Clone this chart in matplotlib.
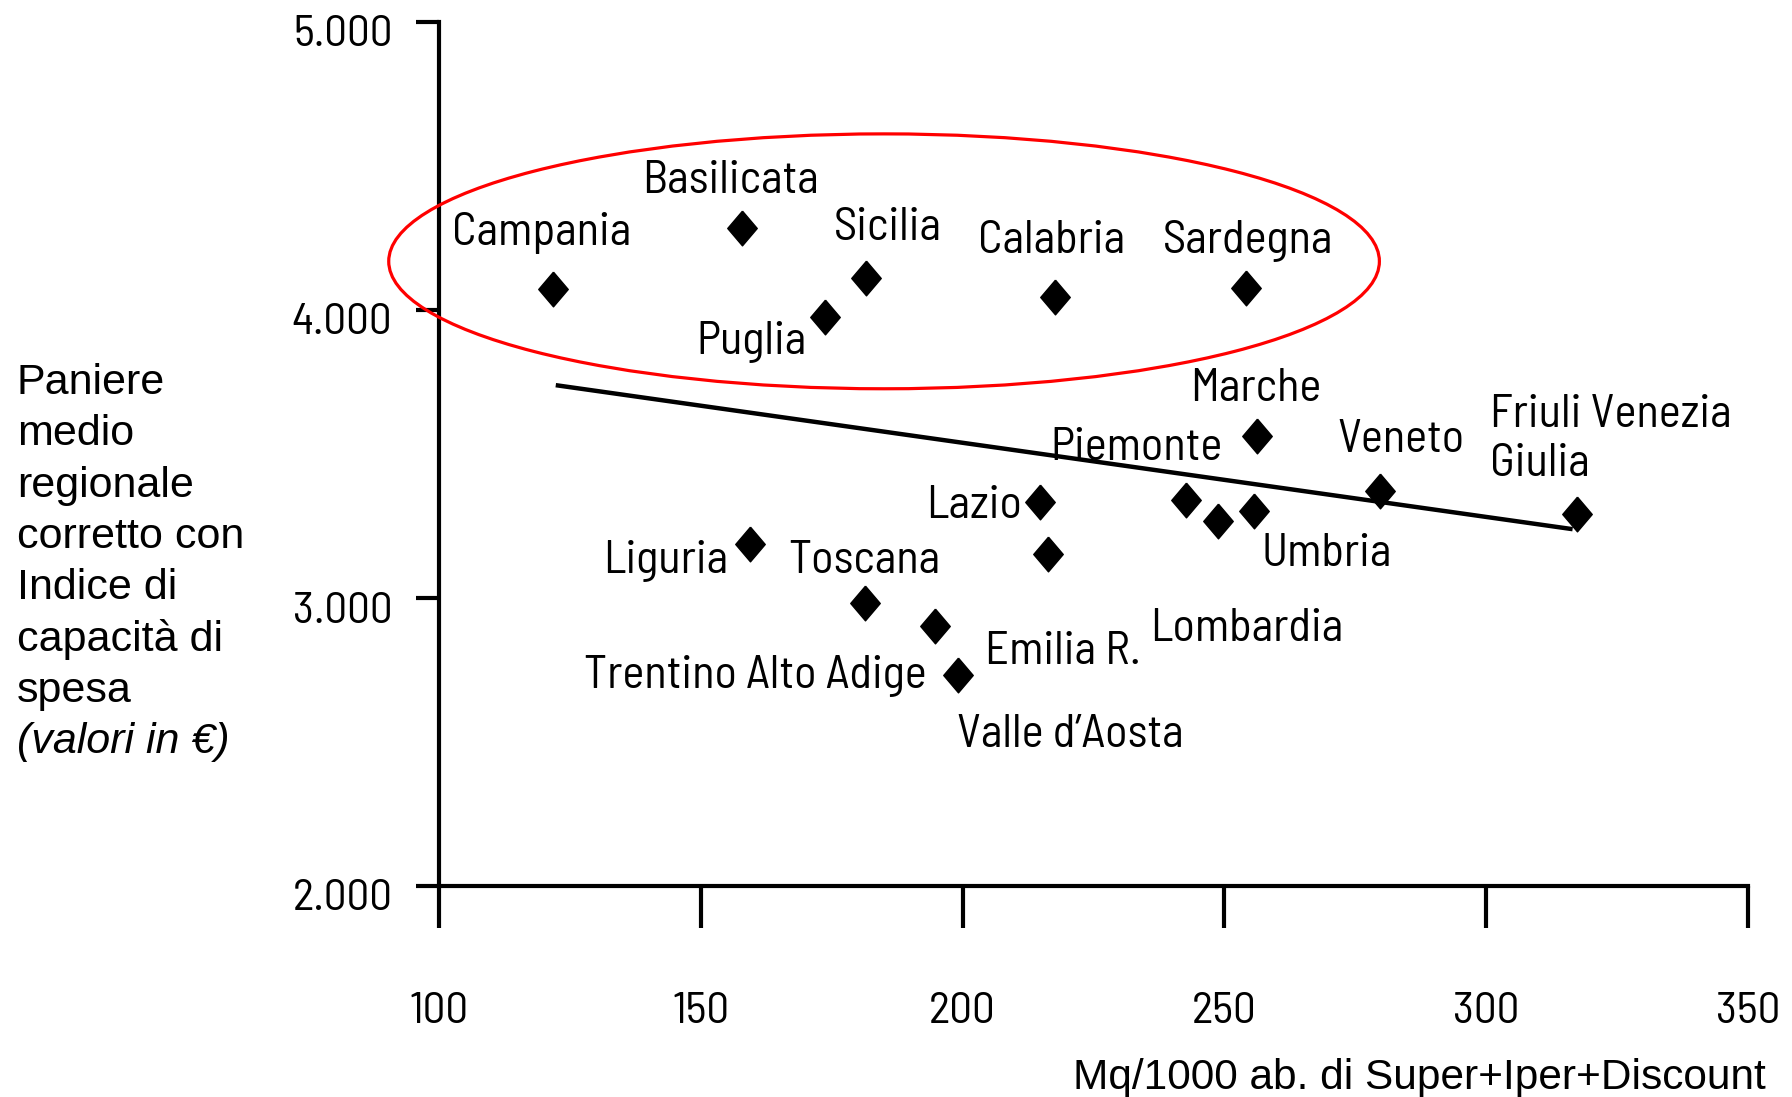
import matplotlib
matplotlib.use('Agg')
import matplotlib.pyplot as plt
from matplotlib.patches import Ellipse
import matplotlib.transforms as mtransforms

# ---------------- data ----------------
regions = ['Campania', 'Basilicata', 'Sicilia', 'Puglia', 'Calabria', 'Sardegna',
           'Marche', 'Veneto', 'Friuli Venezia Giulia', 'Lazio', 'Emilia R.',
           'Lombardia', 'Piemonte', 'Umbria', 'Liguria', 'Toscana',
           'Trentino Alto Adige', "Valle d\u2019Aosta"]
mq_per_1000 = [121.8, 157.8, 181.6, 173.8, 217.6, 254.1,
               256.3, 279.8, 317.4, 214.8, 216.3,
               242.7, 248.8, 255.6, 159.4, 181.4,
               194.7, 199.1]
paniere = [4072, 4283, 4112, 3977, 4044, 4076,
           3564, 3370, 3290, 3334, 3152,
           3342, 3267, 3302, 3187, 2981,
           2902, 2731]
label_text = ['Campania', 'Basilicata', 'Sicilia', 'Puglia', 'Calabria', 'Sardegna',
              'Marche', 'Veneto', 'Friuli Venezia\nGiulia', 'Lazio', 'Emilia R.',
              'Lombardia', 'Piemonte', 'Umbria', 'Liguria', 'Toscana',
              'Trentino Alto Adige', "Valle d\u2019Aosta"]
label_x = [119.6, 155.7, 185.8, 159.6, 217.0, 254.5,
           256.0, 283.8, 300.8, 202.1, 219.2,
           254.3, 233.3, 269.6, 143.2, 181.2,
           160.5, 220.5]
label_y = [4269, 4447, 4284, 3888, 4241, 4241,
           3725, 3550, 3550, 3320, 2812,
           2892, 3522, 3153, 3130, 3130,
           2729, 2523]
label_ha = ['center'] * 8 + ['left'] + ['center'] * 9

trend_x = [122.3, 316.5]
trend_y = [3739, 3239]

x_ticks = [100, 150, 200, 250, 300, 350]
x_tick_labels = ['100', '150', '200', '250', '300', '350']
y_ticks = [2000, 3000, 4000, 5000]
y_tick_labels = ['2.000', '3.000', '4.000', '5.000']

ylabel_lines = ['Paniere', 'medio', 'regionale', 'corretto con', 'Indice di',
                'capacit\u00e0 di', 'spesa', '(valori in \u20ac)']
xlabel = 'Mq/1000 ab. di Super+Iper+Discount'

# ---------------- style ----------------
COND = ['Barlow Semi Condensed', 'Roboto Condensed', 'DejaVu Sans']
ARIAL = ['Liberation Sans', 'Arimo', 'DejaVu Sans']
W, H = 1792, 1097

fig = plt.figure(figsize=(W / 100, H / 100), dpi=100)
ax = fig.add_axes([439 / W, 1 - 886 / H, (1748 - 439) / W, (886 - 22) / H])
ax.set_xlim(100, 350)
ax.set_ylim(2000, 5000)

LW = 3.0
for s in ['top', 'right']:
    ax.spines[s].set_visible(False)
ax.spines['left'].set_linewidth(LW)
ax.spines['bottom'].set_linewidth(LW)
ax.spines['left'].set_capstyle('projecting')
ax.spines['bottom'].set_capstyle('projecting')

ax.set_xticks(x_ticks)
ax.set_xticklabels(x_tick_labels, fontfamily=COND, fontsize=32.5)
ax.set_yticks(y_ticks)
ax.set_yticklabels(y_tick_labels, fontfamily=COND, fontsize=32.5)
ax.tick_params(axis='x', direction='out', length=30, width=LW, pad=46)
ax.tick_params(axis='y', direction='out', length=16.5, width=LW, pad=17)

off = mtransforms.ScaledTranslation(0, -9 / 100, fig.dpi_scale_trans)
for lab in ax.get_yticklabels():
    lab.set_transform(lab.get_transform() + off)

# trend line
ax.plot(trend_x, trend_y, color='black', lw=3.2, solid_capstyle='butt', zorder=2)

# diamonds
diamond = [(0, 1), (0.85, 0), (0, -1), (-0.85, 0), (0, 1)]
ax.plot(mq_per_1000, paniere, linestyle='none', marker=diamond, markersize=25,
        color='black', zorder=3)

# labels
for t, x, y, ha in zip(label_text, label_x, label_y, label_ha):
    ax.text(x, y, t, ha=ha, va='center', fontfamily=COND, fontsize=33.5,
            linespacing=1.2, zorder=4)

# red ellipse highlight
ell = Ellipse((185.0, 4169), 189.2, 885, fill=False, edgecolor='#FF0000',
              lw=2.3, clip_on=False, zorder=5)
ax.add_patch(ell)

# y label (multi-line, left)
for i, line in enumerate(ylabel_lines):
    yb = 394 + 51.3 * i
    fig.text(17 / W, 1 - yb / H, line, ha='left', va='baseline',
             fontfamily=ARIAL, fontsize=31,
             fontstyle='italic' if line.startswith('(') else 'normal')

# x label
fig.text(1766 / W, 1 - 1089 / H, xlabel, ha='right', va='baseline',
         fontfamily=ARIAL, fontsize=30.5)

fig.savefig('out.png', dpi=100)
